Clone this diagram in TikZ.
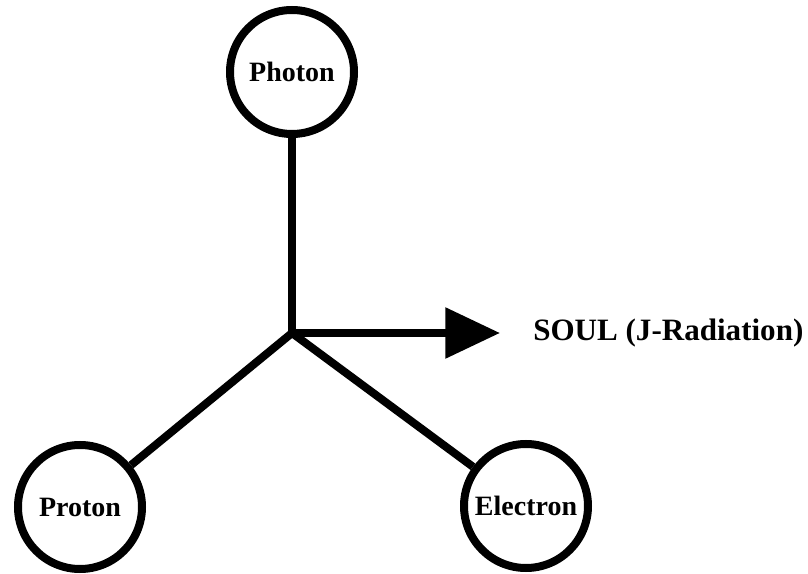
\documentclass[tikz,border=0pt]{standalone}
\usepackage{fontspec}
\setmainfont{Liberation Serif}
\usetikzlibrary{
  arrows.meta,
}
\tikzset{
  font=\bfseries,
  my particle/.style={
    draw,
    circle,
    line width=6pt,
    minimum size=93pt,
    inner sep=0pt,
    font=\fontsize{21}{25}\selectfont\bfseries
  },
  my link/.style={
    line width=6pt,
    line join=miter
  },
  my arrow/.style={
    my link,
    -{Triangle[length=41pt,width=37pt]},
    shorten >=24.75pt
  },
  my label/.style={
    inner sep=0pt,
    anchor=west,
    font=\fontsize{23.3}{28}\selectfont\bfseries
  }
}

\begin{document}
\begin{tikzpicture}[x=0.75pt,y=-0.75pt]
\useasboundingbox (0,0) rectangle (808,574);
\node[my particle] (photon)   at (292,72)  {Photon};
\node[my particle] (proton)   at (80,507)  {Proton};
\node[my particle] (electron) at (526,506) {Electron};
\coordinate (hub) at (292,333);
\node[my label] (soul) at (533,333) {SOUL (J-Radiation)};
\draw[my arrow] (photon) -- (hub) -- (soul.west);
\draw[my link] (hub) -- (proton);
\draw[my link] (hub) -- (electron);
\end{tikzpicture}
\end{document}
